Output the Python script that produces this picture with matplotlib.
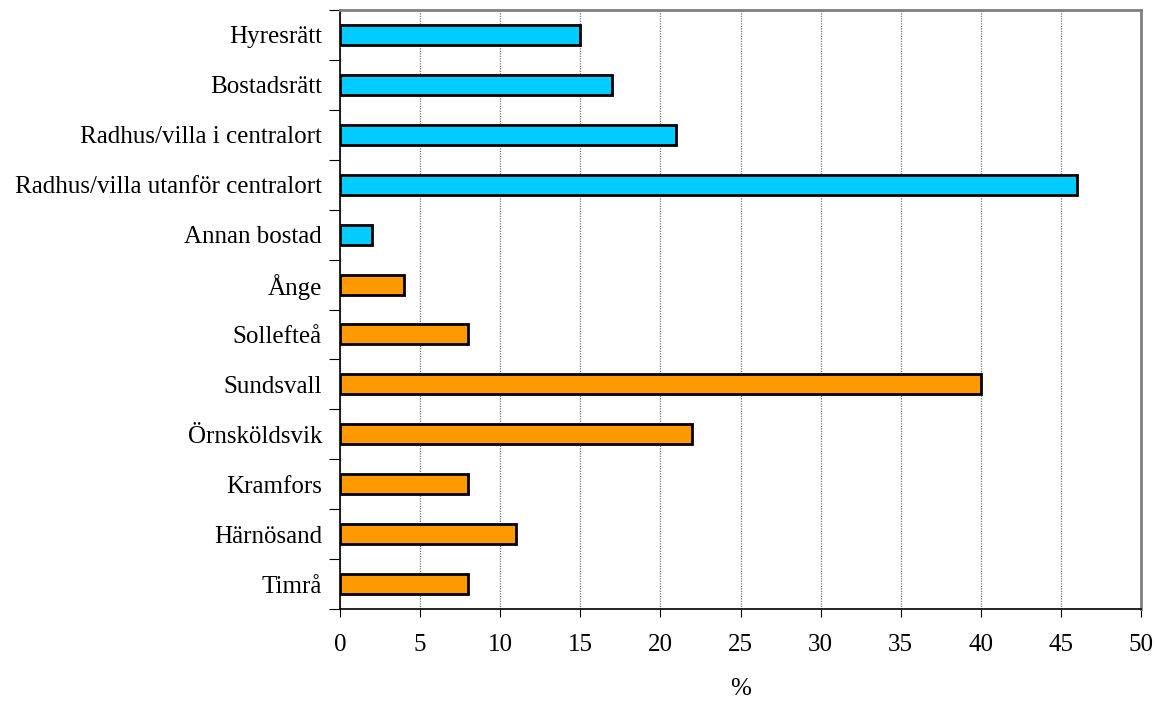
import matplotlib.pyplot as plt
import numpy as np

plt.rcParams['font.family'] = ['Liberation Serif', 'DejaVu Serif']

categories = ['Hyresrätt', 'Bostadsrätt', 'Radhus/villa i centralort',
              'Radhus/villa utanför centralort', 'Annan bostad',
              'Ånge', 'Sollefteå', 'Sundsvall', 'Örnsköldsvik',
              'Kramfors', 'Härnösand', 'Timrå']
values = [15, 17, 21, 46, 2, 4, 8, 40, 22, 8, 11, 8]
groups = ['bostad'] * 5 + ['kommun'] * 7
group_colors = {'bostad': '#00CCFF', 'kommun': '#FF9900'}

fig = plt.figure(figsize=(11.57, 7.02), dpi=100)
ax = fig.add_axes([340 / 1157, 1 - 609 / 702, 801 / 1157, 599 / 702])

n = len(categories)
y = np.arange(n)[::-1]
colors = [group_colors[g] for g in groups]
ax.barh(y, values, height=0.4, color=colors, edgecolor='black', linewidth=2, zorder=3)

ax.set_xlim(0, 50)
ax.set_ylim(-0.5, n - 0.5)
ax.set_xticks(np.arange(0, 51, 5))
ax.tick_params(axis='x', labelsize=18, length=6, direction='out', pad=12)

# category labels between boundary ticks
ax.set_yticks(np.arange(-0.5, n, 1.0))
ax.set_yticklabels([])
ax.tick_params(axis='y', length=8, direction='out')
ax.set_yticks(y, minor=True)
ax.set_yticklabels(categories, minor=True)
ax.tick_params(axis='y', which='minor', length=0, labelsize=18, pad=13)

ax.grid(axis='x', color='#777777', linestyle=(0, (1, 1)), linewidth=0.9, zorder=0)
ax.set_xlabel('%', fontsize=18, labelpad=16)

for s in ['left', 'bottom']:
    ax.spines[s].set_color('black')
    ax.spines[s].set_linewidth(1.2)
for s in ['top', 'right']:
    ax.spines[s].set_color('#808080')
    ax.spines[s].set_linewidth(2)

fig.savefig('out.png', dpi=100)
